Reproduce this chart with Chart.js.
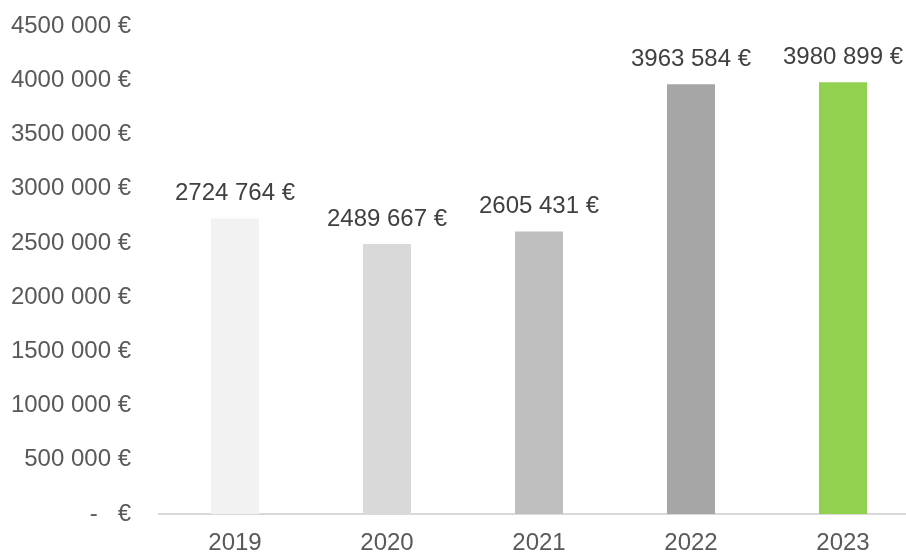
<!DOCTYPE html>
<html>
<head>
<meta charset="utf-8">
<script src="https://cdn.jsdelivr.net/npm/chart.js@4.4.1/dist/chart.umd.min.js"></script>
<style>
  html, body { margin: 0; padding: 0; background: #fff; overflow: hidden; }
  #cadre { width: 906px; height: 552px; overflow: hidden; position: relative; }
  canvas { display: block; }
</style>
</head>
<body>
<!-- la derniere categorie deborde un peu a droite, le cadre la coupe -->
<div id="cadre"><canvas id="myChart" width="920" height="552"></canvas></div>
<script>
var annees = ['2019', '2020', '2021', '2022', '2023'];
var montants = [2724764, 2489667, 2605431, 3963584, 3980899];
var couleurs = ['#f2f2f2', '#d9d9d9', '#bfbfbf', '#a6a6a6', '#92d050'];
var graduations = [0, 500000, 1000000, 1500000, 2000000, 2500000, 3000000, 3500000, 4000000, 4500000];

// "2724 764 €" : milliers separes par une espace, "-   €" pour zero
function euros(v) {
    if (v === 0) return '-   €';
    var mille = Math.floor(v / 1000);
    var reste = String(Math.round(v % 1000)).padStart(3, '0');
    return mille + ' ' + reste + ' €';
}

var police = '"Liberation Sans", Arial, sans-serif';

var etiquettes = {
    id: 'etiquettes',
    afterDatasetsDraw: function(chart) {
        var ctx = chart.ctx;
        var meta = chart.getDatasetMeta(0);
        ctx.save();
        ctx.font = '24px ' + police;
        ctx.fillStyle = '#404040';
        ctx.textAlign = 'center';
        ctx.textBaseline = 'middle';
        meta.data.forEach(function(bar, i) {
            ctx.fillText(euros(montants[i]), bar.x, bar.y - 25);
        });
        ctx.restore();
    }
};

var ctx = document.getElementById('myChart').getContext('2d');
var myChart = new Chart(ctx, {
    type: 'bar',
    data: {
        labels: annees,
        datasets: [{
            data: montants,
            backgroundColor: couleurs,
            borderWidth: 0,
            barPercentage: 0.316,
            categoryPercentage: 1
        }]
    },
    options: {
        responsive: false,
        animation: false,
        layout: { padding: { top: 26, left: 0, right: 1, bottom: 0 } },
        plugins: { legend: { display: false }, tooltip: { enabled: false } },
        scales: {
            x: {
                grid: { display: false, drawTicks: false },
                border: { color: '#d9d9d9', width: 2 },
                ticks: {
                    color: '#595959',
                    font: { size: 24, family: police },
                    padding: 15
                },
                afterFit: function(axis) {
                    axis.height = 38;
                    axis.paddingLeft = 0;
                    axis.paddingRight = 0;
                }
            },
            y: {
                min: 0,
                max: 4500000,
                grid: { display: false, drawTicks: false },
                border: { display: false },
                afterBuildTicks: function(axis) {
                    axis.ticks = graduations.map(function(v) { return { value: v }; });
                },
                ticks: {
                    color: '#595959',
                    font: { size: 24, family: police },
                    padding: 28,
                    callback: function(v) { return euros(v); }
                },
                afterFit: function(axis) {
                    axis.width = 159;
                    axis.paddingTop = 0;
                    axis.paddingBottom = 0;
                }
            }
        }
    },
    plugins: [etiquettes]
});
</script>
</body>
</html>
